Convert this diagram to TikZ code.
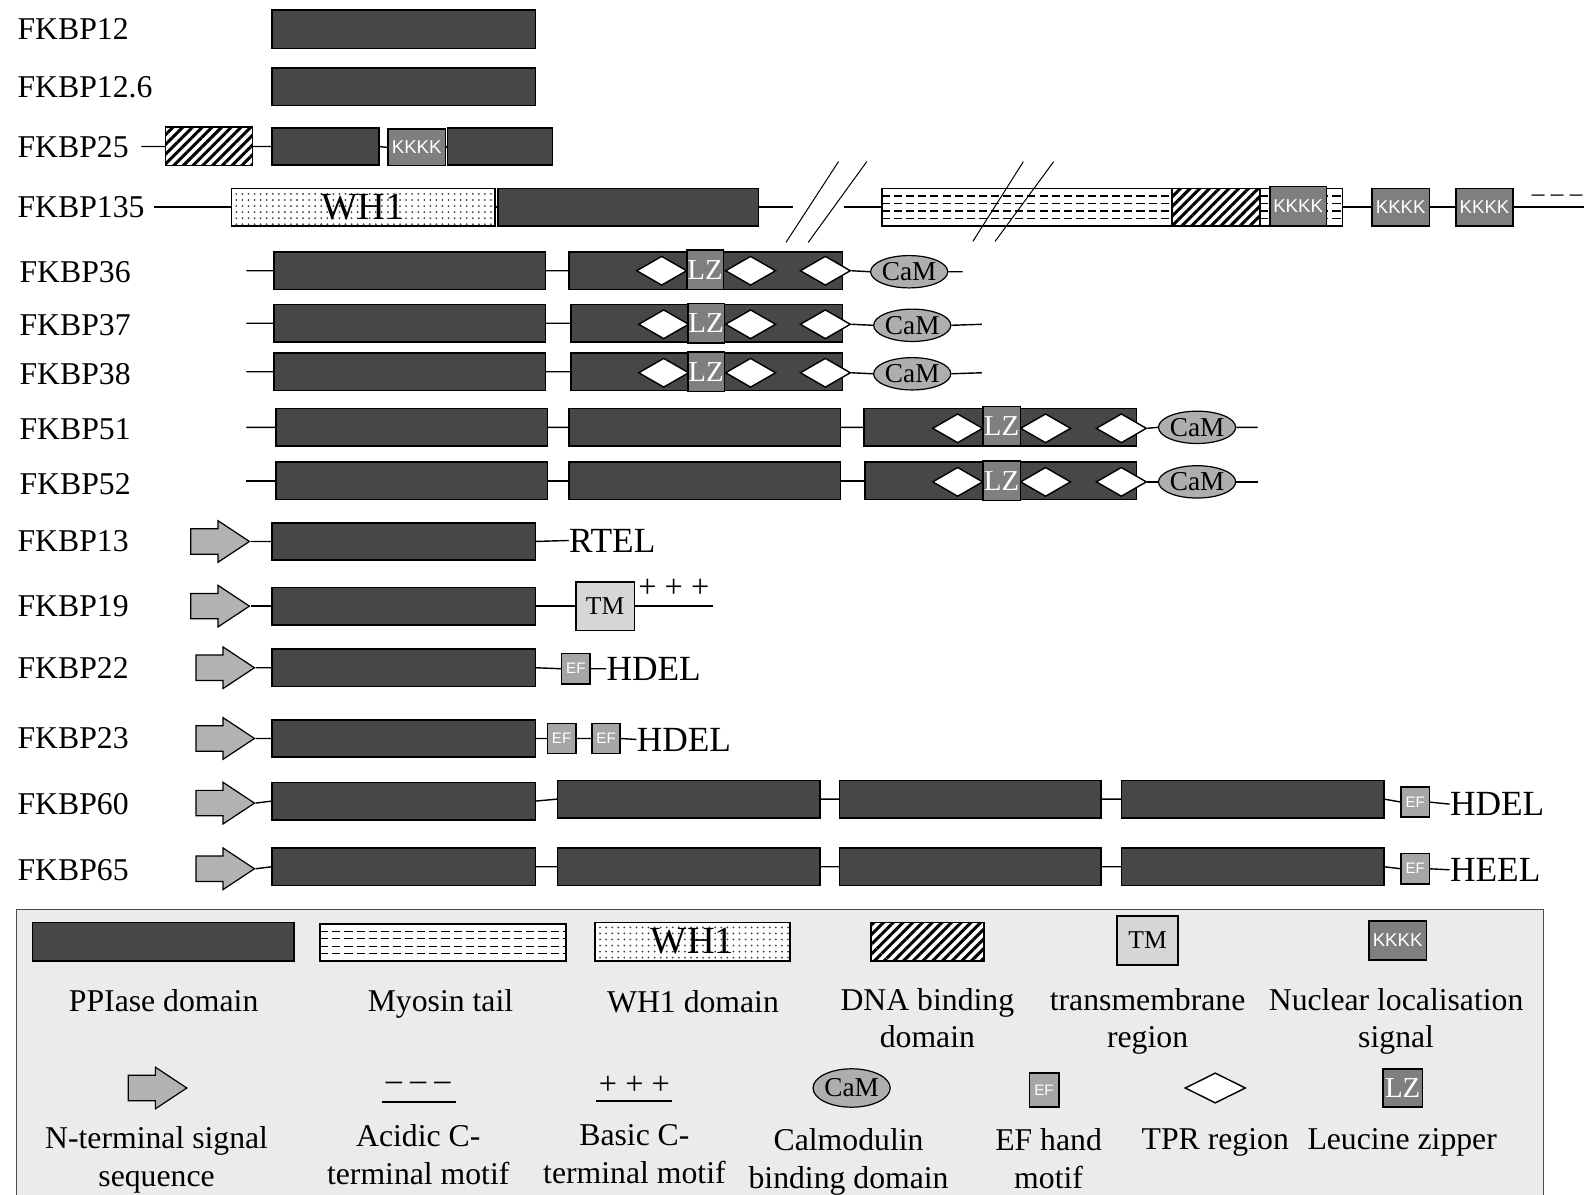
\documentclass[tikz,border=0pt]{standalone}
\usepackage{fontspec}
\setmainfont{Liberation Serif}
\setsansfont{Liberation Sans}
\usetikzlibrary{shapes.geometric,shapes.arrows,patterns,patterns.meta,calc}
\definecolor{ppic}{HTML}{474747}
\definecolor{kkc}{HTML}{7F7F7F}
\definecolor{camc}{HTML}{AEAEAE}
\definecolor{efc}{HTML}{A6A6A6}
\definecolor{sigc}{HTML}{B2B2B2}
\definecolor{tmc}{HTML}{D6D6D6}
\definecolor{legc}{HTML}{EBEBEB}
\newcommand\bx[7][]{\node[#7, minimum width={(#4-#3)*0.5pt}, minimum height={(#6)*0.5pt}] (#2) at ({(#3+#4)/2},#5) {#1};}
\tikzset{
 dom/.style={rectangle, draw=black, line width=0.8pt, inner sep=0pt, outer sep=0pt},
 ppi/.style={dom, fill=ppic},
 kkkk/.style={dom, fill=kkc, text=white, font=\sffamily\fontsize{9.2}{10}\selectfont},
 lz/.style={dom, fill=kkc, text=white, font=\fontsize{14.3}{15}\selectfont},
 ef/.style={dom, fill=efc, text=white, font=\sffamily\fontsize{7.5}{8}\selectfont},
 tm/.style={dom, fill=tmc, font=\fontsize{12.7}{14}\selectfont},
 dna/.style={dom, preaction={fill=white}, pattern={Lines[angle=45,distance=3.4pt,line width=1.5pt]}},
 wh/.style={dom, preaction={fill=white}, pattern=dots, pattern color=black!75, font=\fontsize{19}{20}\selectfont},
 myo/.style={dom, fill=white, path picture={\foreach \f in {0.2,0.4,0.6,0.8}{\draw[line width=0.7pt, dash pattern=on 4pt off 2pt] ($(path picture bounding box.north west)!\f!(path picture bounding box.south west)$) -- ($(path picture bounding box.north east)!\f!(path picture bounding box.south east)$);}}},
 tpr/.style={diamond, draw=black, line width=0.7pt, fill=white, inner sep=0pt, minimum width=25pt, minimum height=14.5pt},
 cam/.style={ellipse, draw=black, line width=0.6pt, fill=camc, inner sep=0pt, minimum width=36pt, minimum height=16pt, font=\fontsize{13.5}{14}\selectfont},
 sig/.style={single arrow, draw=black, line width=0.6pt, fill=sigc, inner xsep=0pt, inner ysep=6pt, minimum height=29pt, minimum width=20pt, single arrow head extend=4pt, single arrow tip angle=67, single arrow head indent=0pt, anchor=tip},
 lab/.style={font=\fontsize{15.7}{18.5}\selectfont, inner sep=0pt, anchor=west},
 mot/.style={font=\fontsize{17.5}{19}\selectfont, inner sep=0pt, anchor=west},
 leg/.style={font=\fontsize{15.7}{18.5}\selectfont, inner sep=0pt, anchor=north, align=center},
 sym/.style={font=\fontsize{16}{18}\selectfont, inner sep=0pt},
 ln/.style={line width=0.7pt},
 brk/.style={line width=0.5pt},
}
\begin{document}
\begin{tikzpicture}[x=0.5pt,y=-0.5pt]
\useasboundingbox (0,0) rectangle (1568,1182);
% ---------- labels ----------
\node[lab] (L12) at (17,29) {FKBP12};
\node[lab] (L126) at (17,86) {FKBP12.6};
\node[lab] (L25) at (17,146) {FKBP25};
\node[lab] (L135) at (17,205) {FKBP135};
\node[lab] (L36) at (19,269) {FKBP36};
\node[lab] (L37) at (19,322) {FKBP37};
\node[lab] (L38) at (19,370) {FKBP38};
\node[lab] (L51) at (19,425) {FKBP51};
\node[lab] (L52) at (19,479) {FKBP52};
\node[lab] (L13) at (17,536) {FKBP13};
\node[lab] (L19) at (17,600) {FKBP19};
\node[lab] (L22) at (17,661) {FKBP22};
\node[lab] (L23) at (17,731) {FKBP23};
\node[lab] (L60) at (17,796) {FKBP60};
\node[lab] (L65) at (17,861) {FKBP65};
% ---------- FKBP12 / 12.6 ----------
\bx{a1}{269}{530}{29}{38}{ppi}
\bx{b1}{269}{530}{86}{37}{ppi}
% ---------- FKBP25 ----------
\coordinate (c0) at (140,145);
\bx{c1}{164}{250}{145}{38}{dna}
\bx{c2}{269}{375}{145}{37}{ppi}
\bx[KKKK]{c3}{384}{441}{146}{36}{kkkk}
\bx{c4}{443}{547}{145}{37}{ppi}
\draw[ln] (c0) -- (c1.west) (c1.east) -- (c2.west) (c2.east) -- (c3.west) (c3.east) -- (c4.west);
% ---------- FKBP135 ----------
\coordinate (d0) at (152,205);
\bx[WH1]{d1}{229}{490}{205}{37}{wh}
\bx{d2}{493}{751}{205}{37}{ppi}
\coordinate (d2a) at (785,205);
\coordinate (d2b) at (835,205);
\bx{d3}{873}{1160}{205}{37}{myo}
\bx{d4}{1160}{1247}{205}{37}{dna}
\bx{d5}{1247}{1329}{205}{37}{myo}
\bx[KKKK]{d6}{1257}{1313}{204}{39}{kkkk}
\bx[KKKK]{d7}{1358}{1415}{205}{37}{kkkk}
\bx[KKKK]{d8}{1441}{1498}{205}{37}{kkkk}
\coordinate (d9) at (1568,205);
\node[sym, font=\fontsize{12.5}{14}\selectfont, anchor=west] (d10) at (1516,196) {– – –};
\draw[ln] (d0) -- (d1.west) (d1.east) -- (d2.west) (d2.east) -- (d2a) (d2b) -- (d3.west)
  (d5.east) -- (d7.west) (d7.east) -- (d8.west) (d8.east) -- (d9);
\draw[brk] (778,240) -- (830,160) (800,240) -- (858,160);
\draw[brk] (963,239) -- (1013,160) (985,239) -- (1043,160);
% ---------- FKBP36/37/38 ----------
\coordinate (e0) at (244,268);
\bx{e1}{271}{540}{268}{37}{ppi}
\bx{e2}{563}{834}{268}{37}{ppi}
\node[tpr] (e3) at (655,268) {};
\node[tpr] (e5) at (743,268) {};
\node[tpr] (e6) at (817,268) {};
\bx[LZ]{e4}{680}{716}{267}{39}{lz}
\node[cam] (e7) at (900,269) {CaM};
\coordinate (e8) at (953,269);
\draw[ln] (e0) -- (e1.west) (e1.east) -- (e2.west) (e6.east) -- (e7.west) (e7.east) -- (e8);
%
\coordinate (f0) at (244,320);
\bx{f1}{271}{540}{320}{37}{ppi}
\bx{f2}{565}{834}{320}{37}{ppi}
\node[tpr] (f3) at (657,321) {};
\node[tpr] (f5) at (743,321) {};
\node[tpr] (f6) at (817,321) {};
\bx[LZ]{f4}{681}{717}{320}{39}{lz}
\node[cam] (f7) at (903,322) {CaM};
\coordinate (f8) at (972,321);
\draw[ln] (f0) -- (f1.west) (f1.east) -- (f2.west) (f6.east) -- (f7.west) (f7.east) -- (f8);
%
\coordinate (g0) at (244,368);
\bx{g1}{271}{540}{368}{37}{ppi}
\bx{g2}{565}{834}{368}{37}{ppi}
\node[tpr] (g3) at (657,369) {};
\node[tpr] (g5) at (743,369) {};
\node[tpr] (g6) at (817,369) {};
\bx[LZ]{g4}{681}{717}{368}{39}{lz}
\node[cam] (g7) at (903,370) {CaM};
\coordinate (g8) at (972,369);
\draw[ln] (g0) -- (g1.west) (g1.east) -- (g2.west) (g6.east) -- (g7.west) (g7.east) -- (g8);
% ---------- FKBP51/52 ----------
\coordinate (h0) at (244,423);
\bx{h1}{273}{542}{423}{37}{ppi}
\bx{h2}{563}{832}{423}{37}{ppi}
\bx{h3}{855}{1125}{423}{37}{ppi}
\node[tpr] (h4) at (948,424) {};
\node[tpr] (h6) at (1035,424) {};
\node[tpr] (h7) at (1110,424) {};
\bx[LZ]{h5}{973}{1010}{422}{39}{lz}
\node[cam] (h8) at (1185,423) {CaM};
\coordinate (h9) at (1245,423);
\draw[ln] (h0) -- (h1.west) (h1.east) -- (h2.west) (h2.east) -- (h3.west) (h7.east) -- (h8.west) (h8.east) -- (h9);
%
\coordinate (i0) at (244,476);
\bx{i1}{273}{542}{476}{37}{ppi}
\bx{i2}{563}{832}{476}{37}{ppi}
\bx{i3}{856}{1125}{476}{37}{ppi}
\node[tpr] (i4) at (948,477) {};
\node[tpr] (i6) at (1035,477) {};
\node[tpr] (i7) at (1110,477) {};
\bx[LZ]{i5}{973}{1010}{476}{39}{lz}
\node[cam] (i8) at (1185,477) {CaM};
\coordinate (i9) at (1245,477);
\draw[ln] (i0) -- (i1.west) (i1.east) -- (i2.west) (i2.east) -- (i3.west) (i7.east) -- (i8.west) (i8.east) -- (i9);
% ---------- FKBP13 ----------
\node[sig] (n0) at (248,536) {};
\bx{n1}{269}{530}{536}{37}{ppi}
\node[mot] (n2) at (563,535) {RTEL};
\draw[ln] (n0.tip) -- (n1.west) (n1.east) -- (n2.west);
% ---------- FKBP19 ----------
\node[sig] (o0) at (248,600) {};
\bx{o1}{269}{530}{600}{37}{ppi}
\bx[TM]{o2}{570}{628}{600}{48}{tm}
\coordinate (o3) at (706,600);
\node[sym] (o4) at (667,582) {+ + +};
\draw[ln] (o0.tip) -- (o1.west) (o1.east) -- (o2.west) (o2.east) -- (o3);
% ---------- FKBP22 ----------
\node[sig] (p0) at (253,661) {};
\bx{p1}{269}{530}{661}{37}{ppi}
\bx[EF]{p2}{556}{584}{662}{30}{ef}
\node[mot] (p3) at (600,662) {HDEL};
\draw[ln] (p0.tip) -- (p1.west) (p1.east) -- (p2.west) (p2.east) -- (p3.west);
% ---------- FKBP23 ----------
\node[sig] (q0) at (253,731) {};
\bx{q1}{269}{530}{731}{37}{ppi}
\bx[EF]{q2}{542}{570}{731}{30}{ef}
\bx[EF]{q3}{586}{614}{731}{30}{ef}
\node[mot] (q4) at (630,732) {HDEL};
\draw[ln] (q0.tip) -- (q1.west) (q1.east) -- (q2.west) (q2.east) -- (q3.west) (q3.east) -- (q4.west);
% ---------- FKBP60 ----------
\node[sig] (r0) at (253,795) {};
\bx{r1}{269}{530}{793}{37}{ppi}
\bx{r2}{552}{812}{791}{37}{ppi}
\bx{r3}{831}{1090}{791}{37}{ppi}
\bx{r4}{1110}{1370}{791}{37}{ppi}
\bx[EF]{r5}{1387}{1415}{794}{30}{ef}
\node[mot] (r6) at (1435,796) {HDEL};
\draw[ln] (r0.tip) -- (r1.west) (r1.east) -- (r2.west) (r2.east) -- (r3.west) (r3.east) -- (r4.west) (r4.east) -- (r5.west) (r5.east) -- (r6.west);
% ---------- FKBP65 ----------
\node[sig] (s0) at (253,860) {};
\bx{s1}{269}{530}{858}{37}{ppi}
\bx{s2}{552}{812}{858}{37}{ppi}
\bx{s3}{831}{1090}{858}{37}{ppi}
\bx{s4}{1110}{1370}{858}{37}{ppi}
\bx[EF]{s5}{1387}{1415}{860}{30}{ef}
\node[mot] (s6) at (1435,861) {HEEL};
\draw[ln] (s0.tip) -- (s1.west) (s1.east) -- (s2.west) (s2.east) -- (s3.west) (s3.east) -- (s4.west) (s4.east) -- (s5.west) (s5.east) -- (s6.west);
% ---------- legend ----------
\bx{legend}{16}{1528}{1060}{320}{dom, fill=legc, draw=black!70, line width=0.6pt}
\bx{lppi}{32}{291}{932}{38}{ppi}
\bx{lmyo}{317}{560}{933}{37}{myo}
\bx[WH1]{lwh}{589}{782}{932}{38}{wh}
\bx{ldna}{862}{974}{932}{38}{dna}
\bx[TM]{ltm}{1106}{1166}{931}{48}{tm}
\bx[KKKK]{lkk}{1355}{1412}{931}{39}{kkkk}
\node[leg] (t1) at (162,979) {PPIase domain};
\node[leg] (t2) at (436,979) {Myosin tail};
\node[leg] (t3) at (686,980) {WH1 domain};
\node[leg] (t4) at (918,978) {DNA binding\\domain};
\node[leg] (t5) at (1136,978) {transmembrane\\region};
\node[leg] (t6) at (1382,978) {Nuclear localisation\\signal};
\node[sig] (lsig) at (186,1077) {};
\node[sym] (lac) at (414,1075) {– – –};
\coordinate (lac1) at (378,1091);
\coordinate (lac2) at (451,1091);
\draw[ln] (lac1) -- (lac2);
\node[sym] (lba) at (628,1074) {+ + +};
\coordinate (lba1) at (590,1090);
\coordinate (lba2) at (665,1090);
\draw[ln] (lba1) -- (lba2);
\node[cam, minimum width=37pt, minimum height=19pt] (lcam) at (843,1077) {CaM};
\bx[EF]{lef}{1019}{1048}{1079}{34}{ef}
\node[tpr, minimum width=30pt, minimum height=15pt] (ltpr) at (1203,1077) {};
\bx[LZ]{llz}{1369}{1408}{1077}{38}{lz}
\node[leg] (u1) at (155,1115) {N-terminal signal\\sequence};
\node[leg] (u2) at (414,1113) {Acidic C-\\terminal motif};
\node[leg] (u3) at (628,1113) {Basic C-\\terminal motif};
\node[leg] (u4) at (840,1117) {Calmodulin\\binding domain};
\node[leg] (u5) at (1038,1117) {EF hand\\motif};
\node[leg] (u6) at (1203,1117) {TPR region};
\node[leg] (u7) at (1388,1117) {Leucine zipper};
\end{tikzpicture}
\end{document}
